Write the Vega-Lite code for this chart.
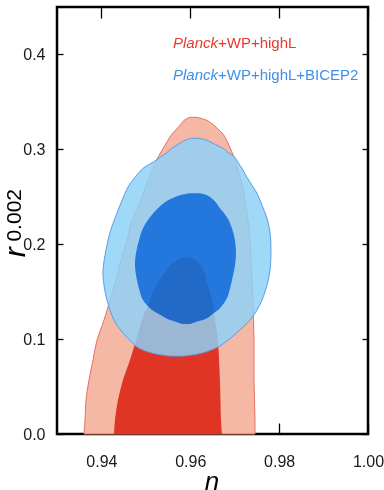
{
  "$schema": "https://vega.github.io/schema/vega-lite/v6.json",
  "width": 311,
  "height": 427,
  "autosize": {"type": "none"},
  "padding": {"left": 57, "top": 7, "right": 16, "bottom": 56},
  "background": "white",
  "config": {
    "view": {"stroke": "black", "strokeWidth": 2.5},
    "font": "Liberation Sans"
  },
  "datasets": {
    "ro": [
      {"r": 0.3337, "lo": 0.95993, "hi": 0.96151},
      {"r": 0.3305, "lo": 0.95858, "hi": 0.96376},
      {"r": 0.3253, "lo": 0.95768, "hi": 0.96533},
      {"r": 0.3147, "lo": 0.95566, "hi": 0.96759},
      {"r": 0.3042, "lo": 0.95431, "hi": 0.96871},
      {"r": 0.2916, "lo": 0.95273, "hi": 0.96983},
      {"r": 0.2779, "lo": 0.95138, "hi": 0.97073},
      {"r": 0.2642, "lo": 0.95025, "hi": 0.97163},
      {"r": 0.2463, "lo": 0.9489, "hi": 0.97231},
      {"r": 0.2253, "lo": 0.94688, "hi": 0.97298},
      {"r": 0.2042, "lo": 0.94575, "hi": 0.97343},
      {"r": 0.1832, "lo": 0.9444, "hi": 0.97366},
      {"r": 0.1621, "lo": 0.94328, "hi": 0.97389},
      {"r": 0.1411, "lo": 0.94193, "hi": 0.97411},
      {"r": 0.12, "lo": 0.94058, "hi": 0.97422},
      {"r": 0.0989, "lo": 0.939, "hi": 0.97434},
      {"r": 0.0779, "lo": 0.9381, "hi": 0.97434},
      {"r": 0.0568, "lo": 0.9372, "hi": 0.97434},
      {"r": 0.0358, "lo": 0.93653, "hi": 0.97445},
      {"r": 0.0147, "lo": 0.9363, "hi": 0.97456},
      {"r": 0.0, "lo": 0.93608, "hi": 0.97456}
    ],
    "ri": [
      {"r": 0.1863, "lo": 0.95813, "hi": 0.95993},
      {"r": 0.1832, "lo": 0.95701, "hi": 0.96128},
      {"r": 0.1779, "lo": 0.95543, "hi": 0.96241},
      {"r": 0.1674, "lo": 0.95386, "hi": 0.96331},
      {"r": 0.1568, "lo": 0.95228, "hi": 0.96398},
      {"r": 0.1411, "lo": 0.95093, "hi": 0.96488},
      {"r": 0.12, "lo": 0.94913, "hi": 0.96556},
      {"r": 0.0989, "lo": 0.94778, "hi": 0.96623},
      {"r": 0.0779, "lo": 0.94643, "hi": 0.96646},
      {"r": 0.0568, "lo": 0.94485, "hi": 0.96668},
      {"r": 0.0358, "lo": 0.94373, "hi": 0.96679},
      {"r": 0.0147, "lo": 0.94305, "hi": 0.96691},
      {"r": 0.0, "lo": 0.94283, "hi": 0.96713}
    ],
    "bo": [
      {"r": 0.3116, "lo": 0.96016, "hi": 0.96196},
      {"r": 0.3095, "lo": 0.95881, "hi": 0.96376},
      {"r": 0.3063, "lo": 0.95768, "hi": 0.96511},
      {"r": 0.3011, "lo": 0.95588, "hi": 0.96736},
      {"r": 0.2968, "lo": 0.95476, "hi": 0.96848},
      {"r": 0.2916, "lo": 0.95318, "hi": 0.97006},
      {"r": 0.2863, "lo": 0.9516, "hi": 0.97073},
      {"r": 0.28, "lo": 0.94935, "hi": 0.97163},
      {"r": 0.2705, "lo": 0.94755, "hi": 0.97276},
      {"r": 0.2621, "lo": 0.9462, "hi": 0.97389},
      {"r": 0.2537, "lo": 0.9453, "hi": 0.97501},
      {"r": 0.2411, "lo": 0.94418, "hi": 0.97614},
      {"r": 0.2274, "lo": 0.94305, "hi": 0.97726},
      {"r": 0.2126, "lo": 0.94193, "hi": 0.97794},
      {"r": 0.1937, "lo": 0.94103, "hi": 0.97816},
      {"r": 0.1726, "lo": 0.94035, "hi": 0.97794},
      {"r": 0.1568, "lo": 0.94058, "hi": 0.97726},
      {"r": 0.1411, "lo": 0.94125, "hi": 0.97614},
      {"r": 0.1305, "lo": 0.94193, "hi": 0.97501},
      {"r": 0.12, "lo": 0.94283, "hi": 0.97343},
      {"r": 0.1116, "lo": 0.94395, "hi": 0.97163},
      {"r": 0.0989, "lo": 0.94643, "hi": 0.96848},
      {"r": 0.0916, "lo": 0.948, "hi": 0.96623},
      {"r": 0.0853, "lo": 0.95138, "hi": 0.96263},
      {"r": 0.0821, "lo": 0.95543, "hi": 0.95858}
    ],
    "bi": [
      {"r": 0.2537, "lo": 0.95993, "hi": 0.96218},
      {"r": 0.2516, "lo": 0.95768, "hi": 0.96376},
      {"r": 0.2463, "lo": 0.95498, "hi": 0.96533},
      {"r": 0.2379, "lo": 0.95273, "hi": 0.96668},
      {"r": 0.2284, "lo": 0.95093, "hi": 0.96826},
      {"r": 0.2168, "lo": 0.94935, "hi": 0.96938},
      {"r": 0.2042, "lo": 0.94845, "hi": 0.97006},
      {"r": 0.1905, "lo": 0.94778, "hi": 0.97028},
      {"r": 0.1779, "lo": 0.94755, "hi": 0.97006},
      {"r": 0.1621, "lo": 0.948, "hi": 0.96938},
      {"r": 0.1495, "lo": 0.94868, "hi": 0.96871},
      {"r": 0.1411, "lo": 0.94935, "hi": 0.96803},
      {"r": 0.1326, "lo": 0.95093, "hi": 0.96668},
      {"r": 0.1274, "lo": 0.9525, "hi": 0.96533},
      {"r": 0.1221, "lo": 0.95453, "hi": 0.96376},
      {"r": 0.1179, "lo": 0.95701, "hi": 0.96106},
      {"r": 0.1158, "lo": 0.95836, "hi": 0.95993}
    ]
  },
  "layer": [
    {
      "data": {"name": "ro"},
      "mark": {"type": "area", "interpolate": "catmull-rom", "fill": "#f5b8a5", "stroke": "#e8705f", "strokeWidth": 1},
      "encoding": {
        "y": {"field": "r", "type": "quantitative", "scale": {"domain": [0, 0.45], "nice": false, "zero": false},
          "axis": {"orient": "left", "values": [0, 0.1, 0.2, 0.3, 0.4], "format": ".1f", "tickSize": -6, "tickWidth": 1.3, "tickColor": "black", "domain": false, "grid": false, "labelFontSize": 16, "labelColor": "#1a1a1a", "labelPadding": 18, "labelFlush": false, "labelOverlap": false, "labelBound": false, "title": null}},
        "x": {"field": "lo", "type": "quantitative", "scale": {"domain": [0.93, 1.0], "nice": false, "zero": false},
          "axis": {"orient": "bottom", "values": [0.94, 0.96, 0.98, 1.0], "format": ".2f", "tickSize": -11, "tickWidth": 1.3, "tickColor": "black", "domain": false, "grid": false, "labelFontSize": 16, "labelColor": "#1a1a1a", "labelPadding": 30, "labelFlush": false, "labelOverlap": false, "labelBound": false, "title": null}},
        "x2": {"field": "hi"}
      }
    },
    {
      "data": {"name": "ri"},
      "mark": {"type": "area", "interpolate": "catmull-rom", "fill": "#e03424"},
      "encoding": {
        "y": {"field": "r", "type": "quantitative", "axis": null},
        "x": {"field": "lo", "type": "quantitative", "axis": null},
        "x2": {"field": "hi"}
      }
    },
    {
      "data": {"name": "bo"},
      "mark": {"type": "area", "interpolate": "catmull-rom", "fill": "#8ed1f7", "fillOpacity": 0.84, "stroke": "#5b9ce6", "strokeWidth": 1},
      "encoding": {
        "y": {"field": "r", "type": "quantitative", "axis": null},
        "x": {"field": "lo", "type": "quantitative", "axis": null},
        "x2": {"field": "hi"}
      }
    },
    {
      "data": {"name": "bi"},
      "mark": {"type": "area", "interpolate": "catmull-rom", "fill": "#3794f1", "blend": "multiply"},
      "encoding": {
        "y": {"field": "r", "type": "quantitative",
          "axis": {"orient": "right", "values": [0, 0.1, 0.2, 0.3, 0.4], "tickSize": -6, "tickWidth": 1.3, "tickColor": "black", "domain": false, "grid": false, "labels": false, "title": null}},
        "x": {"field": "lo", "type": "quantitative",
          "axis": {"orient": "top", "values": [0.94, 0.96, 0.98, 1.0], "tickSize": -11, "tickWidth": 1.3, "tickColor": "black", "domain": false, "grid": false, "labels": false, "title": null}},
        "x2": {"field": "hi"}
      }
    },
    {
      "data": {"values": [{}]},
      "mark": {"type": "text", "text": "Planck", "fontStyle": "italic", "fontSize": 15, "color": "#e53c2e", "align": "left", "baseline": "alphabetic"},
      "encoding": {"x": {"datum": 0.95611, "type": "quantitative", "axis": null}, "y": {"datum": 0.4063, "type": "quantitative", "axis": null}}
    },
    {
      "data": {"values": [{}]},
      "mark": {"type": "text", "text": "+WP+highL", "fontSize": 15, "color": "#e53c2e", "align": "left", "baseline": "alphabetic"},
      "encoding": {"x": {"datum": 0.96623, "type": "quantitative", "axis": null}, "y": {"datum": 0.4063, "type": "quantitative", "axis": null}}
    },
    {
      "data": {"values": [{}]},
      "mark": {"type": "text", "text": "Planck", "fontStyle": "italic", "fontSize": 15, "color": "#3f8fe8", "align": "left", "baseline": "alphabetic"},
      "encoding": {"x": {"datum": 0.95611, "type": "quantitative", "axis": null}, "y": {"datum": 0.3726, "type": "quantitative", "axis": null}}
    },
    {
      "data": {"values": [{}]},
      "mark": {"type": "text", "text": "+WP+highL+BICEP2", "fontSize": 15, "color": "#3f8fe8", "align": "left", "baseline": "alphabetic"},
      "encoding": {"x": {"datum": 0.96623, "type": "quantitative", "axis": null}, "y": {"datum": 0.3726, "type": "quantitative", "axis": null}}
    },
    {
      "data": {"values": [{}]},
      "mark": {"type": "text", "text": "r", "fontStyle": "italic", "fontSize": 30, "color": "black", "angle": 270, "align": "center", "baseline": "alphabetic"},
      "encoding": {"x": {"datum": 0.92279, "type": "quantitative", "axis": null}, "y": {"datum": 0.1916, "type": "quantitative", "axis": null}}
    },
    {
      "data": {"values": [{}]},
      "mark": {"type": "text", "text": "0.002", "fontSize": 21, "color": "black", "angle": 270, "align": "center", "baseline": "alphabetic"},
      "encoding": {"x": {"datum": 0.9219, "type": "quantitative", "axis": null}, "y": {"datum": 0.2305, "type": "quantitative", "axis": null}}
    },
    {
      "data": {"values": [{}]},
      "mark": {"type": "text", "text": "n", "fontStyle": "italic", "fontSize": 26, "color": "black", "align": "center", "baseline": "alphabetic"},
      "encoding": {"x": {"datum": 0.96488, "type": "quantitative", "axis": null}, "y": {"datum": -0.0589, "type": "quantitative", "axis": null}}
    }
  ]
}
